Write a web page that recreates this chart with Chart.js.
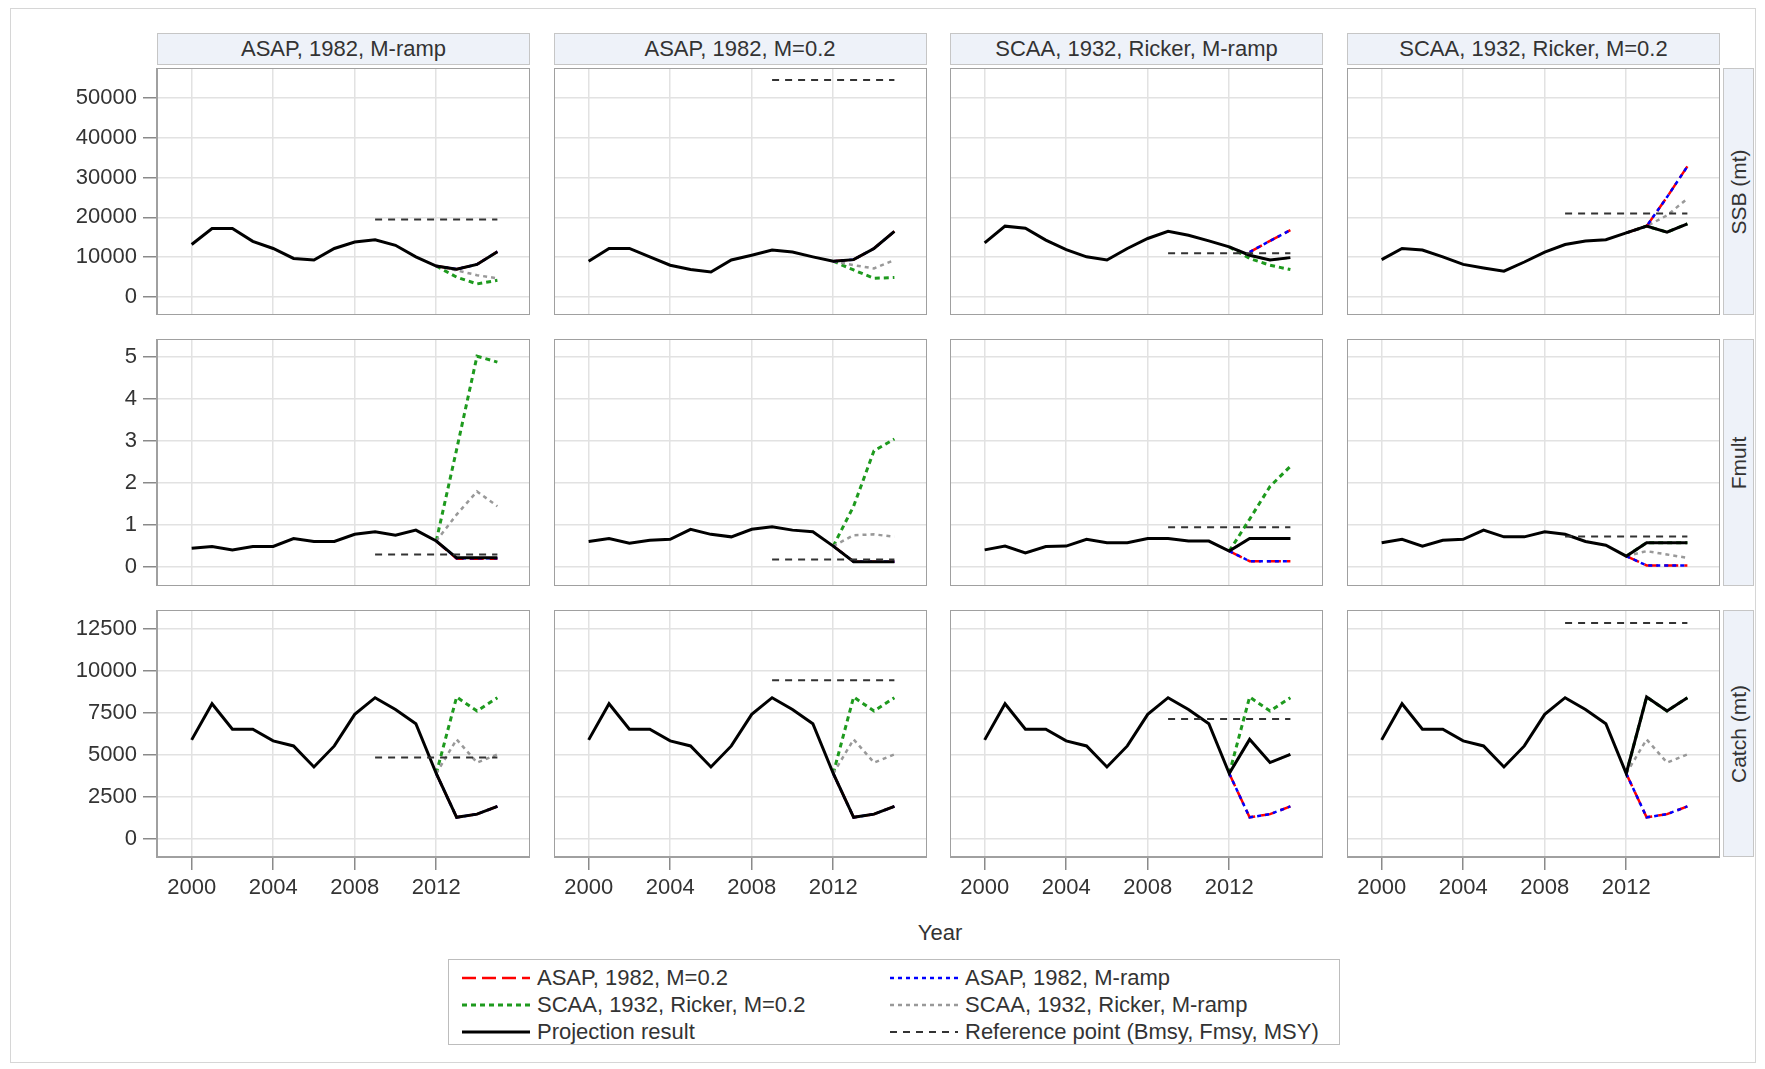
<!DOCTYPE html>
<html><head><meta charset="utf-8">
<script src="https://cdn.jsdelivr.net/npm/chart.js@4.4.1/dist/chart.umd.min.js"></script>
<style>
body{margin:0;background:#fff;width:1765px;height:1069px;position:relative;overflow:hidden;font-family:"Liberation Sans",Arial,sans-serif;color:#333}
.frame{position:absolute;left:10px;top:8px;width:1746px;height:1055px;border:1px solid #d6d6d6;box-sizing:border-box}
.hdr{position:absolute;height:32px;top:33px;background:#eef2f9;border:1px solid #c6c6c6;box-sizing:border-box;font-size:22px;text-align:center;line-height:30px;color:#333}
.strip{position:absolute;left:1723px;width:31px;background:#eef2f9;border:1px solid #c6c6c6;box-sizing:border-box}
.strip span{position:absolute;left:50%;top:50%;transform:translate(-50%,-50%) rotate(-90deg);white-space:nowrap;font-size:21px;color:#333}
.cv{position:absolute}
.xtitle{position:absolute;left:0;width:1880px;top:920px;text-align:center;font-size:22px;color:#333}
.legend{position:absolute;left:448px;top:959px;width:892px;height:86px;border:1px solid #bdbdbd;box-sizing:border-box}
.li{position:absolute;font-size:22px;color:#333;white-space:nowrap;display:flex;align-items:center;height:26px}
.li svg{margin-right:7px}
</style></head><body>
<div class="frame"></div>
<div id="root"></div>
<div class="xtitle">Year</div>
<div class="legend" id="legend"></div>
<script>
// ---------------- DATA ----------------
const years = [2000,2001,2002,2003,2004,2005,2006,2007,2008,2009,2010,2011,2012,2013,2014,2015];
const projYears = [2012,2013,2014,2015];
const refYears = [2009,2015];
const xTicks = [2000,2004,2008,2012];
const panelTitles = ["ASAP, 1982, M-ramp","ASAP, 1982, M=0.2","SCAA, 1932, Ricker, M-ramp","SCAA, 1932, Ricker, M=0.2"];
const rowTitles = ["SSB (mt)","Fmult","Catch (mt)"];
const legendLabels = ["ASAP, 1982, M=0.2","ASAP, 1982, M-ramp","SCAA, 1932, Ricker, M=0.2","SCAA, 1932, Ricker, M-ramp","Projection result","Reference point (Bmsy, Fmsy, MSY)"];
const ssbTicks = [0,10000,20000,30000,40000,50000];
const fmultTicks = [0,1,2,3,4,5];
const catchTicks = [0,2500,5000,7500,10000,12500];

// SSB (mt)
const ssbResult1 = [13200,17200,17200,14000,12200,9700,9300,12200,13800,14400,13000,10100,7800,7000,8200,11400];
const ssbAsapM02_1 = [7800,7000,8200,11400];
const ssbAsapRamp1 = [7800,7000,8200,11400];
const ssbScaaM02_1 = [7800,5000,3300,4200];
const ssbScaaRamp1 = [7800,6700,5500,4700];

const ssbResult2 = [9000,12200,12200,10100,8000,6900,6300,9300,10500,11800,11300,10100,9000,9400,12200,16500];
const ssbAsapM02_2 = [9000,9400,12200,16500];
const ssbAsapRamp2 = [9000,9400,12200,16500];
const ssbScaaM02_2 = [9000,6800,4700,4900];
const ssbScaaRamp2 = [9000,8000,7200,9300];

const ssbResult3 = [13600,17800,17300,14300,11900,10100,9300,12200,14700,16500,15500,14100,12600,10500,9300,9900];
const ssbAsapM02_3 = [null,11300,14100,16800];
const ssbAsapRamp3 = [null,11300,14100,16800];
const ssbScaaM02_3 = [12600,9700,8000,6900];
const ssbScaaRamp3 = [12600,10500,9300,9900];

const ssbResult4 = [9400,12200,11800,10100,8200,7300,6500,8800,11300,13200,14100,14400,16100,17800,16300,18400];
const ssbAsapM02_4 = [16100,17800,25100,32800];
const ssbAsapRamp4 = [16100,17800,25100,32800];
const ssbScaaM02_4 = [16100,17800,16300,18400];
const ssbScaaRamp4 = [16100,17800,20500,24700];

const ssbRef = [19500,54500,11000,21000];

// Fmult
const fmultResult1 = [0.45,0.49,0.41,0.49,0.49,0.68,0.61,0.61,0.78,0.84,0.76,0.88,0.62,0.22,0.22,0.22];
const fmultAsapM02_1 = [0.62,0.2,0.2,0.2];
const fmultAsapRamp1 = [0.62,0.21,0.21,0.21];
const fmultScaaM02_1 = [0.62,2.8,5.02,4.88];
const fmultScaaRamp1 = [0.62,1.25,1.8,1.45];

const fmultResult2 = [0.61,0.68,0.57,0.64,0.66,0.90,0.78,0.72,0.90,0.96,0.88,0.84,0.50,0.13,0.13,0.13];
const fmultAsapM02_2 = [0.5,0.13,0.13,0.13];
const fmultAsapRamp2 = [0.5,0.13,0.13,0.13];
const fmultScaaM02_2 = [0.5,1.45,2.77,3.05];
const fmultScaaRamp2 = [0.5,0.76,0.78,0.72];

const fmultResult3 = [0.41,0.50,0.34,0.49,0.50,0.66,0.58,0.58,0.68,0.68,0.62,0.62,0.38,0.68,0.68,0.68];
const fmultAsapM02_3 = [0.38,0.14,0.14,0.14];
const fmultAsapRamp3 = [0.38,0.14,0.14,0.14];
const fmultScaaM02_3 = [0.38,1.14,1.92,2.40];
const fmultScaaRamp3 = [0.38,0.68,0.68,0.68];

const fmultResult4 = [0.58,0.66,0.50,0.64,0.66,0.88,0.72,0.72,0.84,0.78,0.61,0.52,0.26,0.58,0.58,0.58];
const fmultAsapM02_4 = [0.26,0.04,0.04,0.04];
const fmultAsapRamp4 = [0.26,0.04,0.04,0.04];
const fmultScaaM02_4 = [0.26,0.58,0.58,0.58];
const fmultScaaRamp4 = [0.26,0.38,0.30,0.22];

const fmultRef = [0.3,0.18,0.95,0.73];

// Catch (mt)
const catchObserved = [5900,8050,6530,6530,5840,5540,4290,5540,7420,8410,7710,6860,3900];
const catchProjected1 = [1290,1480,1940];
const catchProjected2 = [1290,1480,1940];
const catchProjected3 = [5930,4550,5040];
const catchProjected4 = [8450,7620,8410];
const catchAsapM02 = [3900,1290,1480,1940];
const catchAsapRamp = [3900,1290,1480,1940];
const catchScaaM02 = [3900,8450,7620,8410];
const catchScaaRamp = [3900,5930,4550,5040];
const catchRef = [4850,9450,7150,12850];

// ---------------- LAYOUT / STYLE ----------------
const FONT = '"Liberation Sans", Arial, sans-serif';
const W = 373, H = 247;
const colX = [157, 553.5, 950, 1347];
const rowY = [68, 339, 610];
const LPAD = 130, BPAD = 48;
const styles = {
  ref:   {borderColor:'#333333', borderWidth:2, borderDash:[7,6]},
  res:   {borderColor:'#000000', borderWidth:3, borderDash:[]},
  red:   {borderColor:'#ff0000', borderWidth:2.5, borderDash:[14,6]},
  blue:  {borderColor:'#0000ff', borderWidth:2.5, borderDash:[4,4]},
  green: {borderColor:'#1e9a1e', borderWidth:3, borderDash:[5,4]},
  gray:  {borderColor:'#999999', borderWidth:2.5, borderDash:[4,4]}
};

const rows = [
  {ticks:ssbTicks, min:-4500, max:57500,
   res:[ssbResult1,ssbResult2,ssbResult3,ssbResult4],
   red:[ssbAsapM02_1,ssbAsapM02_2,ssbAsapM02_3,ssbAsapM02_4],
   blue:[ssbAsapRamp1,ssbAsapRamp2,ssbAsapRamp3,ssbAsapRamp4],
   green:[ssbScaaM02_1,ssbScaaM02_2,ssbScaaM02_3,ssbScaaM02_4],
   gray:[ssbScaaRamp1,ssbScaaRamp2,ssbScaaRamp3,ssbScaaRamp4],
   ref:ssbRef},
  {ticks:fmultTicks, min:-0.45, max:5.43,
   res:[fmultResult1,fmultResult2,fmultResult3,fmultResult4],
   red:[fmultAsapM02_1,fmultAsapM02_2,fmultAsapM02_3,fmultAsapM02_4],
   blue:[fmultAsapRamp1,fmultAsapRamp2,fmultAsapRamp3,fmultAsapRamp4],
   green:[fmultScaaM02_1,fmultScaaM02_2,fmultScaaM02_3,fmultScaaM02_4],
   gray:[fmultScaaRamp1,fmultScaaRamp2,fmultScaaRamp3,fmultScaaRamp4],
   ref:fmultRef},
  {ticks:catchTicks, min:-1070, max:13630,
   res:[catchProjected1,catchProjected2,catchProjected3,catchProjected4].map(p=>catchObserved.concat(p)),
   red:[catchAsapM02,catchAsapM02,catchAsapM02,catchAsapM02],
   blue:[catchAsapRamp,catchAsapRamp,catchAsapRamp,catchAsapRamp],
   green:[catchScaaM02,catchScaaM02,catchScaaM02,catchScaaM02],
   gray:[catchScaaRamp,catchScaaRamp,catchScaaRamp,catchScaaRamp],
   ref:catchRef}
];

function pts(xs, ys){ return xs.map((x,i)=>({x:x, y:ys[i]})); }
function ds(label, data, st, order){
  return Object.assign({label, data, order, pointRadius:0, fill:false, tension:0, spanGaps:false, borderCapStyle:'butt'}, st);
}
function noPad(ax){ ax.paddingTop=0; ax.paddingBottom=0; ax.paddingLeft=0; ax.paddingRight=0; }

const boxPlugin = {id:'box', afterDraw(chart){
  const a = chart.chartArea, ctx = chart.ctx;
  ctx.save(); ctx.strokeStyle='#a0a0a0'; ctx.lineWidth=2;
  ctx.strokeRect(a.left, a.top, a.right-a.left, a.bottom-a.top); ctx.restore();
}};

const root = document.getElementById('root');
for (let c=0;c<4;c++){
  const h = document.createElement('div'); h.className='hdr';
  h.style.left = colX[c]+'px'; h.style.width = W+'px'; h.textContent = panelTitles[c];
  root.appendChild(h);
}
for (let r=0;r<3;r++){
  const s = document.createElement('div'); s.className='strip';
  s.style.top = rowY[r]+'px'; s.style.height = H+'px';
  const sp = document.createElement('span'); sp.textContent = rowTitles[r]; s.appendChild(sp);
  root.appendChild(s);
}

for (let r=0;r<3;r++){
  for (let c=0;c<4;c++){
    const R = rows[r];
    const lp = c===0?LPAD:0, bp = r===2?BPAD:0;
    const div = document.createElement('div'); div.className='cv';
    div.style.left = (colX[c]-lp)+'px'; div.style.top = rowY[r]+'px';
    const cv = document.createElement('canvas');
    cv.width = W+lp; cv.height = H+bp;
    cv.style.width = (W+lp)+'px'; cv.style.height = (H+bp)+'px';
    div.appendChild(cv); root.appendChild(div);
    new Chart(cv, {
      type:'line',
      data:{datasets:[
        ds('Reference point (Bmsy, Fmsy, MSY)', pts(refYears,[R.ref[c],R.ref[c]]), styles.ref, 0),
        ds('Projection result', pts(years,R.res[c]), styles.res, 1),
        ds('ASAP, 1982, M-ramp', pts(projYears,R.blue[c]), styles.blue, 2),
        ds('ASAP, 1982, M=0.2', pts(projYears,R.red[c]), styles.red, 3),
        ds('SCAA, 1932, Ricker, M-ramp', pts(projYears,R.gray[c]), styles.gray, 4),
        ds('SCAA, 1932, Ricker, M=0.2', pts(projYears,R.green[c]), styles.green, 5)
      ]},
      options:{
        responsive:false, animation:false, events:[], devicePixelRatio:1,
        layout:{padding:0},
        plugins:{legend:{display:false}, tooltip:{enabled:false}},
        scales:{
          x:{type:'linear', min:1998.3, max:2016.6,
             afterBuildTicks:ax=>{ax.ticks = xTicks.map(v=>({value:v}));},
             afterFit:ax=>{ax.height = bp; noPad(ax);},
             grid:{color:'#e2e2e2', lineWidth:1.5, drawTicks:r===2, tickLength:13, tickColor:'#8a8a8a', tickWidth:1.5},
             border:{display:false},
             ticks:{display:r===2, font:{size:22, family:FONT}, color:'#333', padding:5, maxRotation:0, autoSkip:false, callback:v=>String(v)}
          },
          y:{type:'linear', min:R.min, max:R.max,
             afterBuildTicks:ax=>{ax.ticks = R.ticks.map(v=>({value:v}));},
             afterFit:ax=>{ax.width = lp; noPad(ax);},
             grid:{color:'#e2e2e2', lineWidth:1.5, drawTicks:c===0, tickLength:14, tickColor:'#8a8a8a', tickWidth:1.5},
             border:{display:false},
             ticks:{display:c===0, font:{size:22, family:FONT}, color:'#333', padding:6, autoSkip:false, callback:v=>String(v)}
          }
        }
      },
      plugins:[boxPlugin]
    });
  }
}

// legend
const legendStyles = [styles.red, styles.blue, styles.green, styles.gray, styles.res, styles.ref];
const lg = document.getElementById('legend');
const lgCols = [13, 441];
const lgRows = [5, 32, 59];
legendLabels.forEach((t,i)=>{
  const st = legendStyles[i];
  const d = document.createElement('div'); d.className='li';
  d.style.left = lgCols[i%2]+'px'; d.style.top = lgRows[Math.floor(i/2)]+'px';
  const w = 68;
  const dash = st.borderDash.length ? st.borderDash.join(',') : 'none';
  d.innerHTML = '<svg width="'+w+'" height="10"><line x1="0" y1="5" x2="'+w+'" y2="5" stroke="'+st.borderColor+'" stroke-width="'+st.borderWidth+'" stroke-dasharray="'+dash+'"/></svg>';
  const s = document.createElement('span'); s.textContent = t; d.appendChild(s);
  lg.appendChild(d);
});
</script>
</body></html>
